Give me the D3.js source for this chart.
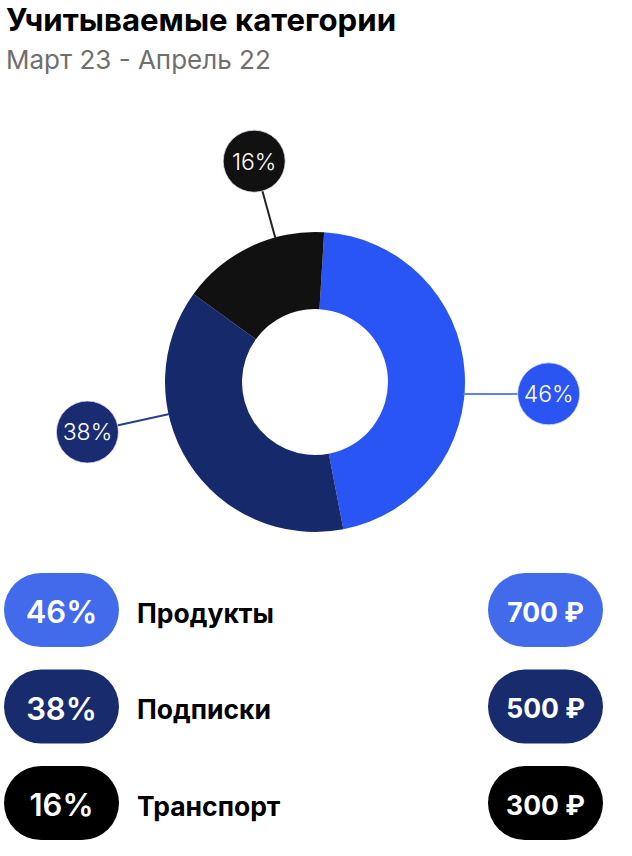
<!DOCTYPE html>
<html><head><meta charset="utf-8">
<script src="https://cdn.jsdelivr.net/npm/d3@7/dist/d3.min.js"></script>
<style>
html,body{margin:0;padding:0;background:#fff;}
svg{display:block;font-family:Inter,"Noto Sans",sans-serif;}
</style></head>
<body><svg id="c" width="632" height="856"></svg>
<script>
const titleText = "Учитываемые категории";
const subtitleText = "Март 23 - Апрель 22";
const categories = ["Продукты", "Подписки", "Транспорт"];
const shares = [46, 38, 16];
const amounts = [700, 500, 300];
const currency = "₽";

const sliceColors = ["#2a55f5", "#162a6b", "#111111"];
const bubbleColors = ["#2b55f2", "#192c72", "#111111"];
const lineColors = ["#5f80f2", "#2a3f8a", "#222222"];
const pillColors = ["#416bea", "#182b6d", "#000000"];
const lineAngleDeg = [94.6, 257.6, 344.6];
const bubbleAngleDeg = [92.9, 257.6, 344.6];
const bubbleDist = [234, 233, 229];

const svg = d3.select("#c");

svg.append("text").attr("x", 6).attr("y", 31)
  .attr("font-size", 31.2).attr("font-weight", 700).attr("fill", "#000")
  .text(titleText);
svg.append("text").attr("x", 6).attr("y", 69)
  .attr("font-size", 26).attr("font-weight", 400).attr("fill", "#6f6f6f")
  .text(subtitleText);

const cx = 315, cy = 382, R = 150, r0 = 73;
const g = svg.append("g").attr("transform", `translate(${cx},${cy})`);
const startA = 0.061;
const pie = d3.pie().sort(null).startAngle(startA).endAngle(startA + 2 * Math.PI);
const arcs = pie(shares);
const arc = d3.arc().innerRadius(r0).outerRadius(R);
g.selectAll("path.slice").data(arcs).join("path")
  .attr("class", "slice").attr("d", arc)
  .attr("fill", (d, i) => sliceColors[i]);

const bubbleR = 31;
const pol = (deg, rad) => { const a = deg * Math.PI / 180; return [rad * Math.sin(a), -rad * Math.cos(a)]; };
const bc = i => pol(bubbleAngleDeg[i], bubbleDist[i]);
const callouts = g.selectAll("g.callout").data(arcs).join("g").attr("class", "callout");
callouts.append("line")
  .each(function (d, i) {
    const p1 = pol(lineAngleDeg[i], R - 1), p2 = bc(i);
    d3.select(this).attr("x1", p1[0]).attr("y1", p1[1]).attr("x2", p2[0]).attr("y2", p2[1]);
  })
  .attr("stroke", (d, i) => lineColors[i]).attr("stroke-width", 2);
callouts.append("circle")
  .attr("cx", (d, i) => bc(i)[0])
  .attr("cy", (d, i) => bc(i)[1])
  .attr("r", bubbleR)
  .attr("fill", (d, i) => bubbleColors[i])
  .attr("stroke", "#d8ddee").attr("stroke-width", 0.8);
callouts.append("text")
  .attr("x", (d, i) => bc(i)[0])
  .attr("y", (d, i) => bc(i)[1])
  .attr("dy", "0.36em").attr("text-anchor", "middle")
  .attr("font-size", 23).attr("font-weight", 300).attr("fill", "#fff")
  .text(d => d.data + "%");

// legend
const y = d3.scaleBand().domain(categories).range([573, 840]).paddingInner(0.233).paddingOuter(0);
const pillW = 115;
const bh = y.bandwidth();
const rows = svg.selectAll("g.row").data(categories).join("g").attr("class", "row")
  .attr("transform", d => `translate(0,${y(d)})`);
rows.append("rect").attr("x", 4).attr("y", 0).attr("width", pillW).attr("height", bh)
  .attr("rx", bh / 2).attr("fill", (d, i) => pillColors[i]);
rows.append("text").attr("x", 4 + pillW / 2).attr("y", bh / 2 + 2).attr("dy", "0.36em")
  .attr("text-anchor", "middle").attr("font-size", 31).attr("font-weight", 600).attr("fill", "#fff")
  .text((d, i) => shares[i] + "%");
rows.append("text").attr("x", 137).attr("y", bh / 2 + 3).attr("dy", "0.36em")
  .attr("font-size", 26.5).attr("font-weight", 700).attr("fill", "#000")
  .text(d => d);
rows.append("rect").attr("x", 488).attr("y", 0).attr("width", pillW).attr("height", bh)
  .attr("rx", bh / 2).attr("fill", (d, i) => pillColors[i]);
rows.append("text").attr("x", 488 + pillW / 2).attr("y", bh / 2 + 2).attr("dy", "0.36em")
  .attr("text-anchor", "middle").attr("font-size", 26.5).attr("font-weight", 700).attr("fill", "#fff")
  .text((d, i) => amounts[i] + " " + currency);
</script></body></html>
